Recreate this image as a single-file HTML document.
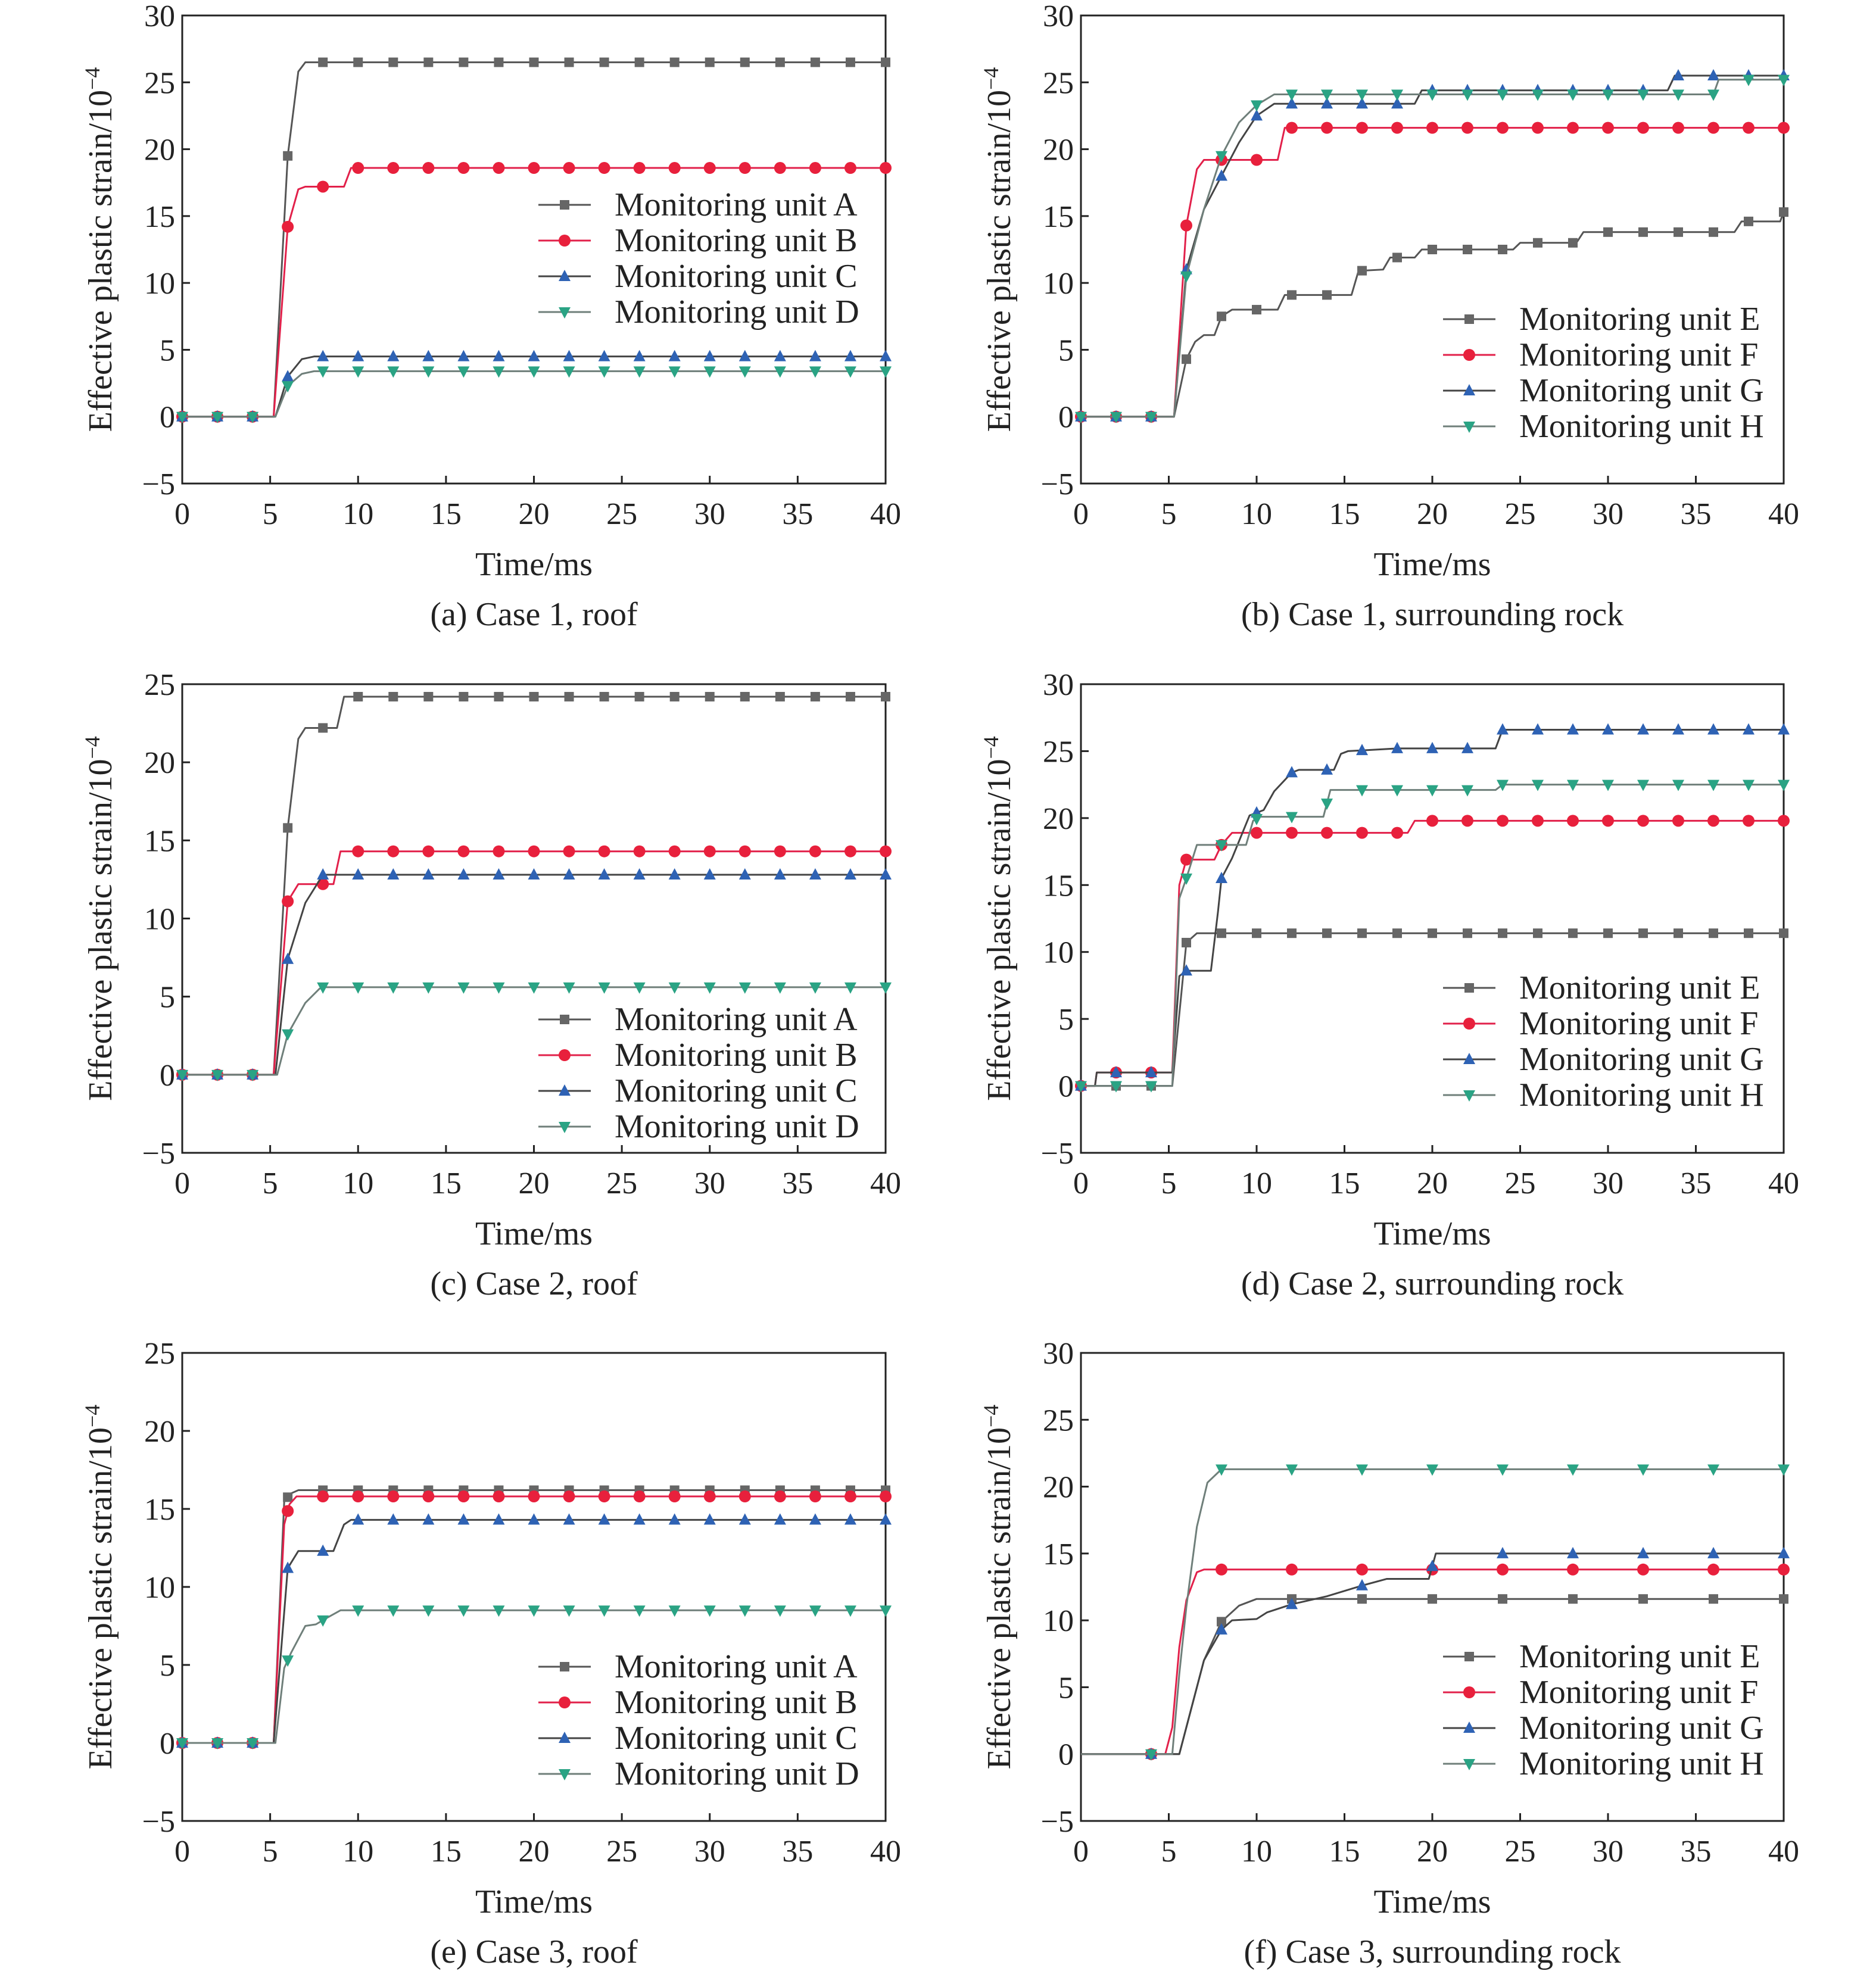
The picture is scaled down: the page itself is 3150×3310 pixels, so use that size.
<!DOCTYPE html>
<html><head><meta charset="utf-8"><style>
html,body{margin:0;padding:0;background:#fff}
svg{display:block}
text{font-family:"Liberation Serif",serif;fill:#222}
</style></head><body>
<svg id="chart" width="3150" height="3310" viewBox="0 0 3150 3310"></svg>
<script>
// ---- data (time ms, strain 1e-4) ----
const a_A=[[0,0],[5.2,0],[6,19.5],[6.6,25.8],[7,26.5],[40,26.5]];
const a_B=[[0,0],[5.2,0],[6,14.2],[6.6,17],[7,17.2],[9.2,17.2],[9.6,18.6],[40,18.6]];
const a_C=[[0,0],[5.3,0],[6,3],[6.8,4.3],[7.5,4.5],[40,4.5]];
const a_D=[[0,0],[5.3,0],[6,2.3],[6.8,3.2],[7.5,3.4],[40,3.4]];
const b_E=[[0,0],[5.3,0],[6,4.3],[6.5,5.6],[7,6.1],[7.6,6.1],[8,7.5],[8.6,8],[11.2,8],[11.6,9.1],[15.4,9.1],[15.8,10.9],[17.2,11],[17.6,11.9],[19,11.9],[19.4,12.5],[24.6,12.5],[25,13],[28.2,13],[28.6,13.8],[37.2,13.8],[37.6,14.6],[39.8,14.6],[40,15.3]];
const b_F=[[0,0],[5.3,0],[6,14.3],[6.6,18.5],[7,19.2],[11.2,19.2],[11.6,21.6],[40,21.6]];
const b_G=[[0,0],[5.3,0],[6,11],[7,15.5],[8,18],[9,20.5],[10,22.5],[11,23.4],[19,23.4],[19.4,24.4],[33.4,24.4],[33.8,25.5],[40,25.5]];
const b_H=[[0,0],[5.3,0],[6,10.5],[7,15.5],[8,19.5],[9,22],[10,23.3],[11,24.1],[36,24.1],[36.3,25.2],[40,25.2]];
const c_A=[[0,0],[5.2,0],[6,15.8],[6.6,21.5],[7,22.2],[8.8,22.2],[9.2,24.2],[40,24.2]];
const c_B=[[0,0],[5.2,0],[6,11.1],[6.6,12.2],[8.6,12.2],[9,14.3],[40,14.3]];
const c_C=[[0,0],[5.3,0],[6,7.4],[7,11],[8,12.8],[40,12.8]];
const c_D=[[0,0],[5.4,0],[6,2.6],[7,4.6],[7.8,5.5],[8,5.6],[40,5.6]];
const d_E=[[0,0],[5.2,0],[6,10.7],[6.6,11.4],[40,11.4]];
const d_F=[[0,0],[0.8,0],[0.9,1],[5.2,1],[5.6,15],[6,16.9],[7.6,16.9],[8,18],[8.6,18.9],[18.6,18.9],[19,19.8],[40,19.8]];
const d_G=[[0,0],[0.8,0],[0.9,1],[5.2,1],[5.6,8.2],[6,8.6],[7.4,8.6],[7.8,13],[8,15.5],[8.6,17],[9.6,20.2],[10.4,20.6],[11,22],[12,23.4],[12.4,23.6],[14.4,23.6],[14.8,24.8],[15.2,25],[18,25.2],[23.6,25.2],[24,26.6],[40,26.6]];
const d_H=[[0,0],[5.2,0],[5.6,14],[6,15.5],[6.6,18],[9.4,18],[9.8,19.8],[10.2,20.1],[13.8,20.1],[14.2,22.1],[23.6,22.1],[24,22.5],[40,22.5]];
const e_A=[[0,0],[5.2,0],[5.8,15.5],[6.2,16],[6.6,16.2],[40,16.2]];
const e_B=[[0,0],[5.2,0],[5.8,14],[6.1,15.3],[6.5,15.8],[40,15.8]];
const e_C=[[0,0],[5.2,0],[6,11.2],[6.6,12.3],[8.6,12.3],[9.2,14],[9.6,14.3],[40,14.3]];
const e_D=[[0,0],[5.3,0],[5.8,4.8],[6.2,5.8],[7,7.5],[7.6,7.6],[8.2,8],[9,8.5],[40,8.5]];
const f_E=[[0,0],[5.6,0],[6,2],[7,7],[8,9.9],[9,11.1],[10,11.6],[40,11.6]];
const f_F=[[0,0],[4.8,0],[5.2,2],[5.6,8],[6,11.5],[6.6,13.6],[7,13.8],[40,13.8]];
const f_G=[[0,0],[5.6,0],[6.4,4],[7,7],[8,9.3],[8.6,10],[10,10.1],[10.6,10.6],[12,11.2],[14,11.8],[16,12.6],[17.4,13.1],[19.8,13.1],[20.2,15],[40,15]];
const f_H=[[0,0],[5.2,0],[5.6,6],[6,11],[6.6,17],[7.2,20.3],[8,21.3],[40,21.3]];
const xTicks=[0,5,10,15,20,25,30,35,40];
const yTicks30=[-5,0,5,10,15,20,25,30];
const yTicks25=[-5,0,5,10,15,20,25];
const captions=["(a) Case 1, roof","(b) Case 1, surrounding rock","(c) Case 2, roof","(d) Case 2, surrounding rock","(e) Case 3, roof","(f) Case 3, surrounding rock"];

const NS="http://www.w3.org/2000/svg";
const svg=document.getElementById('chart');
function el(tag,attrs,parent){const e=document.createElementNS(NS,tag);for(const k in attrs)e.setAttribute(k,attrs[k]);(parent||svg).appendChild(e);return e;}
const styles=[
 {line:'#555',mk:'#666',shape:'square'},
 {line:'#e2204a',mk:'#e8203c',shape:'circle'},
 {line:'#444',mk:'#2e62b4',shape:'tri'},
 {line:'#6f7f7a',mk:'#2aa384',shape:'tridown'}
];
function marker(g,shape,x,y,c,name){
  let m;
  if(shape==='square')m=el('rect',{x:x-8,y:y-8,width:16,height:16,fill:c},g);
  else if(shape==='circle')m=el('circle',{cx:x,cy:y,r:10,fill:c},g);
  else if(shape==='tri')m=el('polygon',{points:`${x},${y-11} ${x-10},${y+8} ${x+10},${y+8}`,fill:c},g);
  else m=el('polygon',{points:`${x},${y+11} ${x-10},${y-8} ${x+10},${y-8}`,fill:c},g);
  
  
}
function interp(s,t){for(let i=1;i<s.length;i++){if(t<=s[i][0]){const a=s[i-1],b=s[i];return a[1]+(b[1]-a[1])*(t-a[0])/(b[0]-a[0]);}}return s[s.length-1][1];}

const panels=[
 {x0:306,x1:1487,y0:26,y1:812,ymax:30,yt:yTicks30,series:[a_A,a_B,a_C,a_D],labels:['A','B','C','D'],leg:[904,344],step:2,ytx:169},
 {x0:1815,x1:2995,y0:26,y1:812,ymax:30,yt:yTicks30,series:[b_E,b_F,b_G,b_H],labels:['E','F','G','H'],leg:[2423,536],step:2,ytx:1678},
 {x0:306,x1:1487,y0:1149,y1:1936,ymax:25,yt:yTicks25,series:[c_A,c_B,c_C,c_D],labels:['A','B','C','D'],leg:[904,1712],step:2,ytx:169},
 {x0:1815,x1:2995,y0:1149,y1:1936,ymax:30,yt:yTicks30,series:[d_E,d_F,d_G,d_H],labels:['E','F','G','H'],leg:[2423,1659],step:2,ytx:1678},
 {x0:306,x1:1487,y0:2272,y1:3058,ymax:25,yt:yTicks25,series:[e_A,e_B,e_C,e_D],labels:['A','B','C','D'],leg:[904,2799],step:2,ytx:169},
 {x0:1815,x1:2995,y0:2272,y1:3058,ymax:30,yt:yTicks30,series:[f_E,f_F,f_G,f_H],labels:['E','F','G','H'],leg:[2423,2782],step:4,ytx:1678}
];
const letters='abcdef';
panels.forEach((p,pi)=>{
  const g=el('g',{});
  
  
  const X=t=>p.x0+(t/40)*(p.x1-p.x0);
  const Y=v=>p.y1-((v+5)/(p.ymax+5))*(p.y1-p.y0);
  const frame=el('rect',{x:p.x0,y:p.y0,width:p.x1-p.x0,height:p.y1-p.y0,fill:'none',stroke:'#222','stroke-width':3},g);
  
  
  xTicks.forEach(t=>{
    el('line',{x1:X(t),x2:X(t),y1:p.y1,y2:p.y1-13,stroke:'#222','stroke-width':3},g);
    const tx=el('text',{x:X(t),y:p.y1+68,'font-size':52,'text-anchor':'middle'},g);tx.textContent=t;
    
    
  });
  p.yt.forEach(v=>{
    el('line',{x1:p.x0,x2:p.x0+13,y1:Y(v),y2:Y(v),stroke:'#222','stroke-width':3},g);
    const tx=el('text',{x:p.x0-12,y:Y(v)+18,'font-size':52,'text-anchor':'end'},g);tx.textContent=v<0?'\u2212'+(-v):v;
    
    
  });
  const xt=el('text',{x:(p.x0+p.x1)/2,y:p.y1+154,'font-size':56,'text-anchor':'middle'},g);xt.textContent='Time/ms';
  
  
  const cy=(p.y0+p.y1)/2;
  const yt=el('text',{x:p.ytx,y:cy,'font-size':56,'text-anchor':'middle',transform:`rotate(-90 ${p.ytx} ${cy})`,dy:18},g);
  yt.innerHTML='Effective plastic strain/10<tspan dy="-20" font-size="36">\u22124</tspan>';
  
  
  const cap=el('text',{x:(p.x0+p.x1)/2,y:p.y1+238,'font-size':56,'text-anchor':'middle'},g);cap.textContent=captions[pi];
  
  
  p.series.forEach((s,si)=>{
    const st=styles[si];
    const sg=el('g',{},g);
    
    
    const pl=el('polyline',{points:s.map(d=>X(d[0])+','+Y(d[1])).join(' '),fill:'none',stroke:st.line,'stroke-width':3,'stroke-linejoin':'round'},sg);
    
    
    for(let t=(p.step===4?4:0);t<=40;t+=p.step){marker(sg,st.shape,X(t),Y(interp(s,t)),st.mk,'point-'+p.labels[si]);}
    const lx=p.leg[0],ly=p.leg[1]+si*60;
    const lg=el('g',{},g);
    
    
    el('line',{x1:lx,x2:lx+88,y1:ly,y2:ly,stroke:st.line,'stroke-width':3},lg);
    marker(lg,st.shape,lx+44,ly,st.mk,'legend-marker');
    const lt=el('text',{x:lx+128,y:ly+18,'font-size':56},lg);lt.textContent='Monitoring unit '+p.labels[si];
    
    
  });
});
</script>
</body></html>
